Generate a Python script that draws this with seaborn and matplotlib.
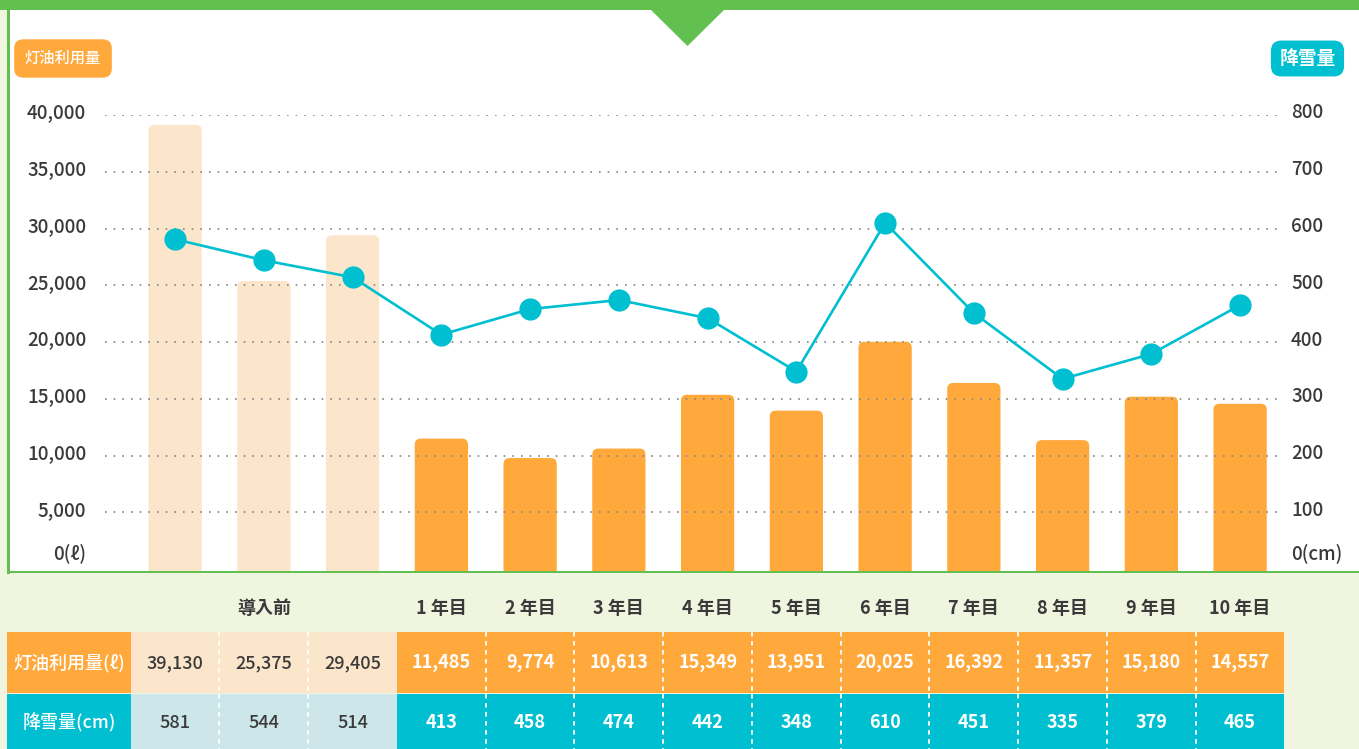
import matplotlib
matplotlib.use('Agg')
import matplotlib.pyplot as plt
import matplotlib.transforms as mtransforms
from matplotlib.patches import Rectangle, Polygon, FancyBboxPatch
import numpy as np
import pandas as pd
import seaborn as sns

sns.set_theme(style='white')
plt.rcParams['font.family'] = ['Noto Sans CJK JP', 'DejaVu Sans']

# データ
col_ids = ['導入前1', '導入前2', '導入前3', '1年目', '2年目', '3年目', '4年目',
           '5年目', '6年目', '7年目', '8年目', '9年目', '10年目']
phase = ['前', '前', '前'] + ['後'] * 10
kerosene = [39130, 25375, 29405, 11485, 9774, 10613, 15349, 13951, 20025,
            16392, 11357, 15180, 14557]
snow = [581, 544, 514, 413, 458, 474, 442, 348, 610, 451, 335, 379, 465]
header_labels = ['導入前'] + [f'{i} 年目' for i in range(1, 11)]
left_ticks = [0, 5000, 10000, 15000, 20000, 25000, 30000, 35000, 40000]
left_labels = ['0(ℓ)', '5,000', '10,000', '15,000', '20,000', '25,000',
               '30,000', '35,000', '40,000']
right_ticks = [0, 100, 200, 300, 400, 500, 600, 700, 800]
right_labels = ['0(cm)', '100', '200', '300', '400', '500', '600', '700', '800']

# 色
ORANGE = '#FFA83B'
PALE = '#FCE6CB'
TEAL = '#00BFD1'
PALE_TEAL = '#CDE6EA'
GREEN = '#62C050'
BG = '#F0F5E0'
TXT = '#3a3a3a'

W, H = 1359, 749
fig = plt.figure(figsize=(W / 100, H / 100), dpi=100)
fig.patch.set_facecolor(BG)

# 背景（白いパネル・緑の枠）
bg = fig.add_axes([0, 0, 1, 1], zorder=-5)
bg.set_xlim(0, W)
bg.set_ylim(H, 0)
bg.axis('off')
bg.add_patch(Rectangle((8, 8), W, 564, fc='white', ec='none'))
bg.add_patch(Rectangle((7, 0), 2.5, 574, fc=GREEN, ec='none'))
bg.add_patch(Rectangle((7, 570.5), W, 2.5, fc=GREEN, ec='none'))
bg.add_patch(Rectangle((0, 0), W, 9.5, fc=GREEN, ec='none'))
bg.add_patch(Polygon([(650, 9), (725, 9), (687.5, 46)], closed=True, fc=GREEN, ec='none'))

# メインのグラフ
L, R, T, B = 105, 1280, 115, 569
step = 88.75
x0 = -0.79
ax = fig.add_axes([L / W, (H - B) / H, (R - L) / W, (B - T) / H])
ax.patch.set_alpha(0)

df = pd.DataFrame({'col': col_ids, 'kerosene': kerosene, 'phase': phase})
sns.barplot(data=df, x='col', y='kerosene', hue='phase',
            palette={'前': PALE, '後': ORANGE}, dodge=False, width=0.6,
            legend=False, ax=ax, saturation=1)

xlim = (x0, x0 + (R - L) / step)
ax.set_xlim(xlim)
ax.set_ylim(0, 40000)

# 棒の角を丸める（下端は枠の線まで）
aspect = (40000 / (B - T)) * step
rad = 6 / step
clip_bottom = -1.5 / (B - T)
for p in list(ax.patches):
    x, y = p.get_x(), p.get_y()
    w, h = p.get_width(), p.get_height()
    fc = p.get_facecolor()
    p.remove()
    bar = FancyBboxPatch((x, y - 2000), w, h + 2000,
                         boxstyle=f'round,pad=0,rounding_size={rad}',
                         mutation_aspect=aspect, fc=fc, ec='none', zorder=1)
    ax.add_patch(bar)
    bar.set_clip_box(mtransforms.TransformedBbox(
        mtransforms.Bbox([[0, clip_bottom], [1, 1]]), ax.transAxes))

ax.hlines(left_ticks[1:], xlim[0], xlim[1], colors='#8a8a8a',
          linestyles=(0, (0.9, 3.9)), linewidth=1.3, zorder=2)
ax.set_yticks(left_ticks, left_labels)
ax.set_xticks([])
ax.set_xlabel('')
ax.set_ylabel('')
ax.tick_params(axis='y', length=0, pad=13.5, labelsize=13.5, labelcolor=TXT)
sns.despine(ax=ax, left=True, bottom=True)

ax2 = ax.twinx()
sns.lineplot(x=np.arange(len(snow)), y=snow, ax=ax2, color=TEAL, linewidth=1.9,
             marker='o', markersize=16, markeredgewidth=0, clip_on=False)
ax2.set_ylim(0, 800)
ax2.set_xlim(xlim)
ax2.set_yticks(right_ticks, right_labels)
ax2.tick_params(axis='y', length=0, pad=8, labelsize=13.5, labelcolor=TXT)
ax2.set_ylabel('')
for s in ax2.spines.values():
    s.set_visible(False)

# 目盛ラベルを少し上へ（0 は大きく上へ）
for a in (ax, ax2):
    for k, lab in enumerate(a.get_yticklabels()):
        lab.set_fontweight('medium')
        dy = 18 if k == 0 else 4
        lab.set_transform(lab.get_transform() +
                          mtransforms.ScaledTranslation(0, dy / 100, fig.dpi_scale_trans))

# 軸ラベルの札
bg.text(63, 58.5, '灯油利用量', ha='center', va='center', color='white',
        fontsize=11, fontweight='medium',
        bbox=dict(boxstyle='round,pad=0.7,rounding_size=0.6', fc=ORANGE, ec='none'))
bg.text(1307.5, 58.5, '降雪量', ha='center', va='center', color='white',
        fontsize=13.5, fontweight='bold',
        bbox=dict(boxstyle='round,pad=0.45,rounding_size=0.55', fc=TEAL, ec='none'))

# 表
tax = fig.add_axes([0, 0, 1, (H - 575) / H])
tax.set_xlim(x0 - L / step, x0 + (W - L) / step)
tax.set_ylim(H, 575)
tax.axis('off')

n = len(col_ids)
n_pre = phase.count('前')
lab_left = x0 - (L - 7) / step
rows = [(632, 692.5, 663, kerosene, ORANGE, PALE, '灯油利用量(ℓ)'),
        (694, H + 5, 723, snow, TEAL, PALE_TEAL, '降雪量(cm)')]
for top, bot, ty, vals, strong, pale, name in rows:
    tax.add_patch(Rectangle((lab_left, top), -0.5 - lab_left, bot - top,
                            fc=strong, ec='none'))
    tax.text((lab_left - 0.5) / 2, ty, name, ha='center', va='center',
             color='white', fontsize=13, fontweight='medium')
    for i, v in enumerate(vals):
        is_pre = phase[i] == '前'
        tax.add_patch(Rectangle((i - 0.5, top), 1, bot - top,
                                fc=pale if is_pre else strong, ec='none'))
        tax.text(i, ty, f'{v:,}', ha='center', va='center', fontsize=13,
                 color=TXT if is_pre else 'white',
                 fontweight='medium' if is_pre else 'bold')
    for i in range(n - 1):
        if phase[i] == phase[i + 1]:
            tax.vlines(i + 0.5, top, bot, colors='white', linewidth=1.3,
                       linestyles=(0, (2.5, 2.5)))

tax.text((n_pre - 1) / 2, 608, header_labels[0], ha='center', va='center',
         fontsize=13, fontweight='bold', color=TXT)
for i, lab in enumerate(header_labels[1:]):
    tax.text(n_pre + i, 608, lab, ha='center', va='center', fontsize=13,
             fontweight='bold', color=TXT)

fig.savefig('out.png', dpi=100, facecolor=fig.get_facecolor())
